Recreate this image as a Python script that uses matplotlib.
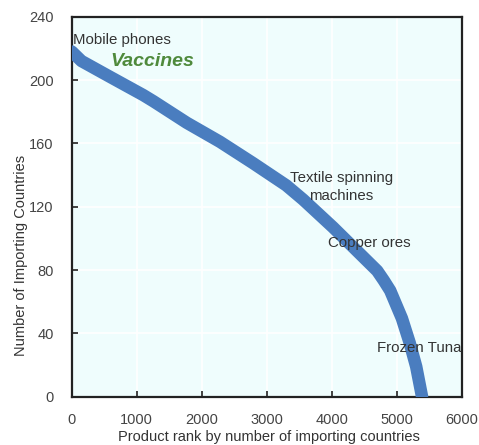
import numpy as np
import matplotlib
matplotlib.use('Agg')
import matplotlib.pyplot as plt

# 読み取った値（製品ランク vs 輸入国数）
rank = [0, 150, 590, 1100, 1260, 1770, 2280, 2790, 3300, 3560, 4020, 4490, 4700, 4800, 4900, 5080, 5200, 5300, 5390]
n_countries = [218, 212, 202, 190.5, 186.5, 173, 161, 147.5, 133.5, 124.5, 107, 88, 79.5, 73.5, 67, 49.5, 34, 19, 0]

x_ticks = [0, 1000, 2000, 3000, 4000, 5000, 6000]
y_ticks = [0, 40, 80, 120, 160, 200, 240]

plt.rcParams['font.family'] = ['Liberation Sans', 'DejaVu Sans']

fig = plt.figure(figsize=(4.79, 4.45), dpi=100)
ax = fig.add_axes([0.1497, 0.1085, 0.8142, 0.854])
ax.set_facecolor('#effdfd')

ax.plot(rank, n_countries, color='#4a7dbf', lw=9, solid_capstyle='round', solid_joinstyle='round', zorder=3)

ax.set_xlim(0, 6000)
ax.set_ylim(0, 240)
ax.set_xticks(x_ticks)
ax.set_yticks(y_ticks)
ax.grid(True, color='white', lw=1.2, zorder=0)
ax.set_axisbelow(True)

for s in ax.spines.values():
    s.set_color('#222222')
    s.set_linewidth(1.6)

ax.tick_params(direction='in', length=4, width=1.2, colors='#222222',
               labelcolor='#444444', labelsize=10.5, top=False, right=False)
ax.tick_params(axis='x', pad=12)
ax.tick_params(axis='y', pad=13)

ax.set_xlabel('Product rank by number of importing countries', fontsize=10.5, color='#333333')
ax.set_ylabel('Number of Importing Countries', fontsize=10.5, color='#333333')
ax.xaxis.set_label_coords(0.506, -0.088)
ax.yaxis.set_label_coords(-0.112, 0.373)

# 注記
ax.text(20, 225, 'Mobile phones', fontsize=10.8, color='#333333', va='center', ha='left')
ax.text(590, 212, 'Vaccines', fontsize=14, color='#4f8a3c', style='italic', weight='bold', va='center', ha='left')
ax.text(4150, 132.5, 'Textile spinning\nmachines', fontsize=10.8, color='#333333', va='center', ha='center', linespacing=1.35)
ax.text(3950, 97, 'Copper ores', fontsize=10.8, color='#333333', va='center', ha='left')
ax.text(4700, 31, 'Frozen Tuna', fontsize=10.8, color='#333333', va='center', ha='left')

fig.savefig('out.png', dpi=100)
